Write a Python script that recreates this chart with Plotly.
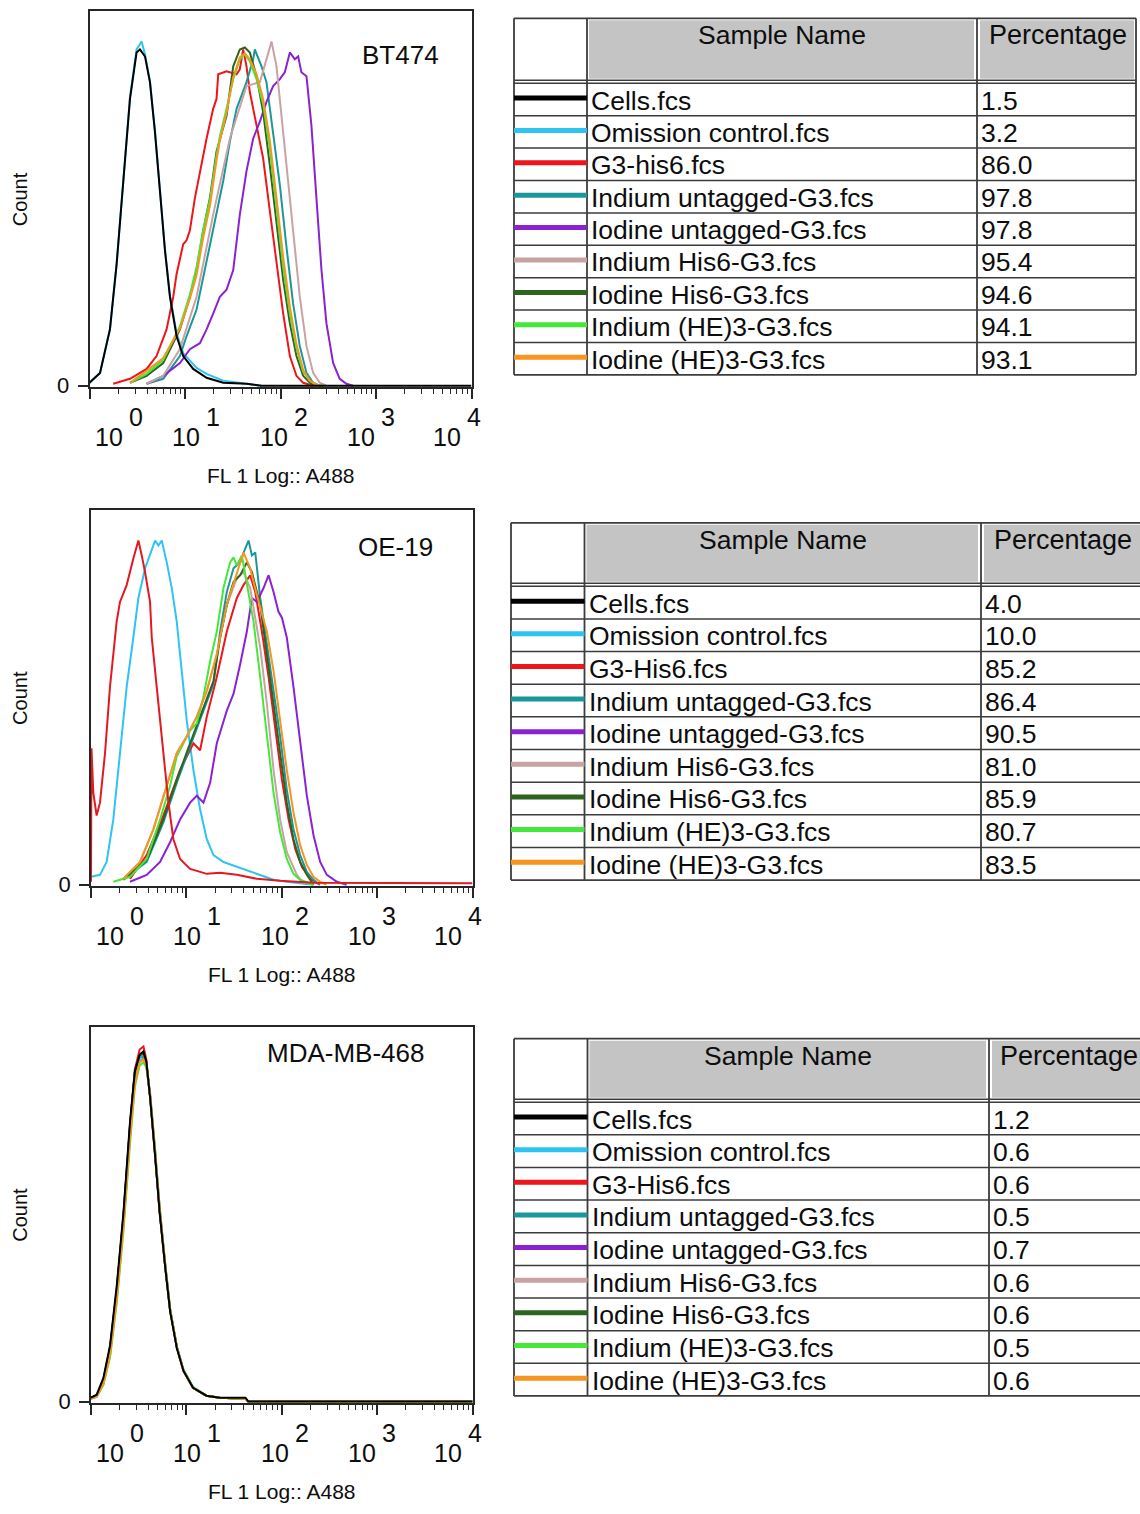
import numpy as np
import plotly.graph_objects as go

FIG_W, FIG_H = 1140, 1514
FONT = "Liberation Sans, Arial, Helvetica, sans-serif"

# ---------------------------------------------------------------- samples
SAMPLE_NAMES_BT474 = [
    "Cells.fcs", "Omission control.fcs", "G3-his6.fcs", "Indium untagged-G3.fcs",
    "Iodine untagged-G3.fcs", "Indium His6-G3.fcs", "Iodine His6-G3.fcs",
    "Indium (HE)3-G3.fcs", "Iodine (HE)3-G3.fcs",
]
SAMPLE_NAMES = [
    "Cells.fcs", "Omission control.fcs", "G3-His6.fcs", "Indium untagged-G3.fcs",
    "Iodine untagged-G3.fcs", "Indium His6-G3.fcs", "Iodine His6-G3.fcs",
    "Indium (HE)3-G3.fcs", "Iodine (HE)3-G3.fcs",
]
PCT_BT474 = [1.5, 3.2, 86.0, 97.8, 97.8, 95.4, 94.6, 94.1, 93.1]
PCT_OE19 = [4.0, 10.0, 85.2, 86.4, 90.5, 81.0, 85.9, 80.7, 83.5]
PCT_MDA = [1.2, 0.6, 0.6, 0.5, 0.7, 0.6, 0.6, 0.5, 0.6]

SERIES_COLORS = [
    "#000000", "#2ec4f2", "#ee151b", "#1b979b", "#8b22d2",
    "#c9a2a2", "#2e6420", "#45e83a", "#f6951f",
]
CELL_LINES = ["BT474", "OE-19", "MDA-MB-468"]
DECADES = [0, 1, 2, 3, 4]

# ---------------------------------------------------------------- BT474 histograms
# x: FL1 position in decades (log10 of intensity), y: event count per channel
BT474_CELLS_X = [0.0, 0.11, 0.214, 0.284, 0.354, 0.424, 0.493, 0.528, 0.581, 0.633, 0.685, 0.737,
                 0.790, 0.842, 0.912, 0.981, 1.086, 1.226, 1.40, 1.644, 1.8, 4.0]
BT474_CELLS_Y = [3, 13, 57, 123, 207, 290, 337, 340, 333, 307, 257, 197,
                 137, 90, 50, 30, 17, 8, 3, 2, 0, 0]
BT474_OMISSION_X = [0.0, 0.11, 0.214, 0.284, 0.354, 0.424, 0.493, 0.546, 0.581, 0.633, 0.685, 0.737,
                    0.790, 0.842, 0.912, 0.981, 1.086, 1.121, 1.226, 1.40, 1.644, 1.8]
BT474_OMISSION_Y = [3, 13, 57, 123, 207, 292, 340, 348, 335, 308, 258, 198,
                    138, 92, 53, 33, 22, 18, 12, 5, 2, 0]
BT474_G3_X = [0.249, 0.424, 0.598, 0.702, 0.807, 0.877, 0.912, 0.981, 1.016, 1.051, 1.104, 1.156,
              1.226, 1.295, 1.330, 1.348, 1.435, 1.540, 1.574, 1.609, 1.644, 1.679, 1.749, 1.818,
              1.888, 1.958, 2.028, 2.098, 2.167, 2.237, 2.342]
BT474_G3_Y = [2, 7, 17, 30, 57, 90, 113, 143, 147, 157, 190, 217,
              250, 280, 290, 315, 318, 315, 320, 340, 323, 297, 263, 230,
              177, 123, 73, 30, 10, 3, 0]
BT474_IN_UNTAG_X = [0.598, 0.772, 0.947, 1.016, 1.121, 1.295, 1.400, 1.470, 1.540, 1.644, 1.714, 1.731,
                    1.801, 1.853, 1.923, 1.993, 2.063, 2.132, 2.202, 2.272, 2.342, 2.411]
BT474_IN_UNTAG_Y = [2, 7, 30, 50, 77, 157, 207, 247, 280, 307, 330, 340,
                    323, 307, 257, 203, 140, 83, 40, 13, 3, 0]
BT474_I_UNTAG_X = [0.598, 0.772, 0.947, 1.051, 1.156, 1.226, 1.295, 1.365, 1.435, 1.505, 1.574, 1.644,
                   1.714, 1.784, 1.853, 1.923, 1.993, 2.045, 2.098, 2.150, 2.185, 2.219, 2.272, 2.324,
                   2.376, 2.429, 2.481, 2.551, 2.620, 2.690, 2.76]
BT474_I_UNTAG_Y = [2, 10, 23, 37, 43, 57, 73, 90, 97, 117, 173, 217,
                   250, 267, 287, 303, 310, 317, 337, 330, 333, 317, 313, 263,
                   190, 117, 63, 23, 7, 2, 0]
BT474_IN_HIS6_X = [0.598, 0.772, 0.947, 1.121, 1.295, 1.470, 1.644, 1.784, 1.853, 1.906, 1.958, 1.993,
                   2.063, 2.132, 2.202, 2.272, 2.342, 2.411, 2.481]
BT474_IN_HIS6_Y = [2, 10, 37, 90, 173, 250, 303, 307, 330, 348, 323, 290,
                   223, 157, 90, 40, 13, 3, 0]
BT474_I_HIS6_X = [0.424, 0.598, 0.772, 0.947, 1.051, 1.121, 1.191, 1.261, 1.330, 1.365, 1.435, 1.505,
                  1.574, 1.627, 1.679, 1.749, 1.818, 1.888, 1.958, 2.028, 2.098, 2.167, 2.237, 2.307, 2.376]
BT474_I_HIS6_Y = [3, 10, 23, 57, 90, 117, 157, 190, 237, 250, 273, 323,
                  340, 342, 337, 313, 277, 223, 163, 107, 63, 30, 10, 3, 0]
BT474_IN_HE3_X = [0.424, 0.598, 0.772, 0.947, 1.051, 1.121, 1.191, 1.261, 1.330, 1.365, 1.435, 1.505,
                  1.574, 1.627, 1.679, 1.749, 1.818, 1.888, 1.958, 2.028, 2.098, 2.167, 2.237, 2.307,
                  2.376, 2.45]
BT474_IN_HE3_Y = [3, 12, 26, 60, 92, 120, 158, 188, 233, 252, 280, 310,
                  330, 335, 328, 310, 285, 240, 180, 120, 73, 38, 14, 5, 1, 0]
BT474_I_HE3_X = [0.424, 0.598, 0.772, 0.947, 1.051, 1.121, 1.191, 1.261, 1.330, 1.365, 1.435, 1.505,
                 1.574, 1.627, 1.679, 1.749, 1.818, 1.888, 1.958, 2.028, 2.098, 2.167, 2.237, 2.307,
                 2.376, 2.45]
BT474_I_HE3_Y = [3, 15, 28, 58, 88, 112, 150, 182, 228, 248, 276, 312,
                 332, 336, 330, 315, 290, 248, 190, 130, 80, 42, 16, 5, 1, 0]

# ---------------------------------------------------------------- OE-19 histograms
OE19_CELLS_X = [0.0, 0.005, 0.024, 0.059, 0.094, 0.147, 0.199, 0.269, 0.304, 0.374, 0.444, 0.497,
                0.532, 0.567, 0.619, 0.637, 0.689, 0.759, 0.812, 0.864, 0.934, 1.039, 1.214, 1.354,
                1.529, 1.739, 1.983, 2.333, 4.0]
OE19_CELLS_Y = [3, 138, 93, 70, 83, 133, 200, 266, 286, 303, 330, 348,
                333, 316, 286, 250, 200, 133, 83, 46, 26, 16, 11, 12,
                10, 6, 4, 2, 1.5]
OE19_OMISSION_X = [0.0, 0.094, 0.164, 0.234, 0.304, 0.374, 0.444, 0.497, 0.567, 0.637, 0.672, 0.707,
                   0.742, 0.794, 0.847, 0.899, 0.952, 1.004, 1.074, 1.144, 1.214, 1.284, 1.389, 1.529,
                   1.634, 1.774, 1.914, 2.053, 2.333]
OE19_OMISSION_Y = [8, 10, 23, 66, 133, 200, 250, 290, 320, 340, 348, 343,
                   348, 326, 300, 266, 216, 166, 116, 76, 46, 30, 23, 18,
                   15, 10, 5, 3, 0]
OE19_G3_X = [0.409, 0.584, 0.759, 0.934, 1.074, 1.144, 1.214, 1.319, 1.424, 1.529, 1.599, 1.669,
             1.722, 1.792, 1.862, 1.932, 2.002, 2.072, 2.142, 2.212, 2.298, 2.40]
OE19_G3_Y = [6, 30, 70, 116, 143, 136, 170, 210, 256, 290, 303, 313,
             296, 256, 210, 156, 106, 66, 36, 18, 6, 0]
OE19_IN_UNTAG_X = [0.339, 0.584, 0.759, 0.899, 1.039, 1.179, 1.284, 1.354, 1.424, 1.494, 1.564, 1.617,
                   1.652, 1.687, 1.722, 1.774, 1.844, 1.914, 1.983, 2.053, 2.123, 2.193, 2.263, 2.333, 2.40]
OE19_IN_UNTAG_Y = [5, 23, 63, 103, 140, 176, 203, 256, 296, 320, 326, 340,
                   348, 333, 336, 290, 243, 196, 150, 96, 56, 30, 13, 5, 0]
OE19_I_UNTAG_X = [0.409, 0.584, 0.724, 0.829, 0.934, 1.039, 1.109, 1.179, 1.249, 1.319, 1.424, 1.494,
                  1.564, 1.634, 1.687, 1.739, 1.809, 1.862, 1.914, 1.966, 2.002, 2.053, 2.123, 2.193,
                  2.263, 2.333, 2.403, 2.473, 2.578, 2.68]
OE19_I_UNTAG_Y = [3, 10, 23, 43, 66, 83, 90, 83, 103, 143, 176, 193,
                  223, 256, 290, 286, 300, 313, 296, 276, 270, 250, 200, 143,
                  90, 50, 23, 10, 3, 0]
OE19_IN_HIS6_X = [0.339, 0.514, 0.654, 0.794, 0.899, 1.004, 1.109, 1.214, 1.319, 1.424, 1.529, 1.599,
                  1.669, 1.774, 1.844, 1.914, 1.983, 2.053, 2.158, 2.24]
OE19_IN_HIS6_Y = [6, 23, 56, 100, 133, 150, 170, 196, 233, 283, 310, 316,
                  300, 240, 183, 116, 66, 33, 10, 0]
OE19_I_HIS6_X = [0.339, 0.584, 0.759, 0.899, 1.039, 1.179, 1.284, 1.354, 1.424, 1.494, 1.564, 1.634,
                 1.687, 1.774, 1.844, 1.914, 1.983, 2.053, 2.123, 2.193, 2.263, 2.333]
OE19_I_HIS6_Y = [5, 25, 66, 106, 143, 180, 206, 250, 283, 306, 313, 326,
                 316, 283, 233, 183, 133, 83, 46, 23, 10, 0]
OE19_IN_HE3_X = [0.234, 0.409, 0.584, 0.724, 0.829, 0.899, 0.969, 1.039, 1.109, 1.179, 1.249, 1.319,
                 1.389, 1.459, 1.494, 1.529, 1.582, 1.634, 1.704, 1.774, 1.844, 1.914, 1.983, 2.053,
                 2.123, 2.193, 2.333]
OE19_IN_HE3_Y = [3, 8, 26, 66, 100, 130, 143, 156, 163, 190, 226, 256,
                 300, 326, 331, 323, 333, 306, 266, 210, 150, 93, 53, 26,
                 11, 5, 0]
OE19_I_HE3_X = [0.339, 0.514, 0.654, 0.794, 0.899, 1.004, 1.109, 1.214, 1.319, 1.424, 1.529, 1.599,
                1.669, 1.739, 1.844, 1.914, 1.983, 2.053, 2.123, 2.193, 2.263, 2.333, 2.403, 2.47]
OE19_I_HE3_Y = [6, 23, 56, 100, 133, 150, 170, 196, 233, 283, 316, 336,
                320, 293, 256, 216, 166, 116, 73, 40, 20, 8, 3, 0]

# ---------------------------------------------------------------- MDA-MB-468 histograms (shared channels)
MDA_X = [0.0, 0.06, 0.13, 0.2, 0.27, 0.34, 0.41, 0.46, 0.51, 0.55, 0.58, 0.62,
         0.67, 0.72, 0.78, 0.83, 0.9, 0.97, 1.07, 1.21, 1.35, 1.62, 1.65, 4.0]
MDA_CELLS_Y = [4, 7, 24, 57, 117, 191, 284, 334, 351, 354, 344, 307,
               251, 191, 134, 91, 54, 31, 14, 6, 4, 4, 0, 0]
MDA_OMISSION_Y = [3, 5, 18, 48, 105, 178, 270, 325, 345, 347, 340, 312,
                  258, 197, 138, 94, 56, 32, 15, 6, 4, 3, 0, 0]
MDA_G3_Y = [4, 6, 22, 54, 112, 186, 280, 336, 356, 359, 346, 308,
            252, 192, 135, 92, 55, 31, 14, 6, 4, 3, 0, 0]
MDA_IN_UNTAG_Y = [3, 5, 19, 50, 108, 182, 276, 330, 348, 349, 341, 309,
                  255, 195, 137, 93, 55, 32, 14, 6, 4, 3, 0, 0]
MDA_I_UNTAG_Y = [3, 6, 21, 53, 112, 186, 279, 332, 350, 352, 342, 308,
                 252, 192, 135, 92, 55, 31, 14, 6, 4, 3, 0, 0]
MDA_IN_HIS6_Y = [3, 6, 21, 52, 110, 184, 278, 331, 349, 351, 343, 309,
                 253, 193, 136, 92, 55, 31, 14, 6, 4, 3, 0, 0]
MDA_I_HIS6_Y = [4, 6, 22, 55, 114, 188, 281, 333, 350, 352, 343, 308,
                252, 192, 135, 92, 55, 31, 14, 6, 4, 3, 0, 0]
MDA_IN_HE3_Y = [3, 5, 17, 45, 100, 172, 262, 318, 340, 343, 338, 310,
                256, 196, 137, 93, 55, 32, 14, 6, 4, 3, 0, 0]
MDA_I_HE3_Y = [3, 5, 18, 47, 103, 176, 267, 322, 343, 346, 340, 310,
               255, 195, 136, 93, 55, 31, 14, 6, 4, 3, 0, 0]

BT474_CURVES = [
    (BT474_CELLS_X, BT474_CELLS_Y), (BT474_OMISSION_X, BT474_OMISSION_Y), (BT474_G3_X, BT474_G3_Y),
    (BT474_IN_UNTAG_X, BT474_IN_UNTAG_Y), (BT474_I_UNTAG_X, BT474_I_UNTAG_Y),
    (BT474_IN_HIS6_X, BT474_IN_HIS6_Y), (BT474_I_HIS6_X, BT474_I_HIS6_Y),
    (BT474_IN_HE3_X, BT474_IN_HE3_Y), (BT474_I_HE3_X, BT474_I_HE3_Y),
]
OE19_CURVES = [
    (OE19_CELLS_X, OE19_CELLS_Y), (OE19_OMISSION_X, OE19_OMISSION_Y), (OE19_G3_X, OE19_G3_Y),
    (OE19_IN_UNTAG_X, OE19_IN_UNTAG_Y), (OE19_I_UNTAG_X, OE19_I_UNTAG_Y),
    (OE19_IN_HIS6_X, OE19_IN_HIS6_Y), (OE19_I_HIS6_X, OE19_I_HIS6_Y),
    (OE19_IN_HE3_X, OE19_IN_HE3_Y), (OE19_I_HE3_X, OE19_I_HE3_Y),
]
MDA_CURVES = [(MDA_X, y) for y in (
    MDA_CELLS_Y, MDA_OMISSION_Y, MDA_G3_Y, MDA_IN_UNTAG_Y, MDA_I_UNTAG_Y,
    MDA_IN_HIS6_Y, MDA_I_HIS6_Y, MDA_IN_HE3_Y, MDA_I_HE3_Y)]

# the OE-19 cells histogram is rendered in red on that panel
OE19_COLORS = ["#e3191f"] + SERIES_COLORS[1:]

# ---------------------------------------------------------------- layout geometry (pixels)
PANELS = [
    dict(name=CELL_LINES[0], curves=BT474_CURVES, colors=SERIES_COLORS, names=SAMPLE_NAMES_BT474,
         pct=PCT_BT474, box=(89.5, 471.5, 11.5, 390), label_pos=(0.813, 0.885),
         table=dict(left=514, top=18.5, c1=587, c2=977, right=1136, head=82.5, row=32.65)),
    dict(name=CELL_LINES[1], curves=OE19_CURVES, colors=OE19_COLORS, names=SAMPLE_NAMES,
         pct=PCT_OE19, box=(91, 472.5, 514, 893), label_pos=(0.797, 0.902),
         table=dict(left=511, top=527, c1=584.5, c2=981, right=1143, head=589.5, row=32.9)),
    dict(name=CELL_LINES[2], curves=MDA_CURVES, colors=SERIES_COLORS, names=SAMPLE_NAMES,
         pct=PCT_MDA, box=(91, 472.5, 1035, 1414), label_pos=(0.666, 0.929),
         table=dict(left=514, top=1047, c1=587.5, c2=989, right=1146, head=1109.5, row=32.9)),
]

# right edge (in decades) of each "10" of the decade labels
DECADE_LABEL_RIGHT = [0.372, 1.178, 2.099, 3.010, 3.911]
DRAW_ORDER = [1, 2, 3, 4, 5, 6, 7, 8, 0]
MINOR_TICKS = [d + np.log10(k) for d in DECADES[:-1] for k in range(2, 10)]
AXIS_COLOR = "#262626"
GRID_COLOR = "#3c3c3c"
HEADER_FILL = "#c4c4c4"
TEXT_COLOR = "#0d0d0d"


def px(x):
    return x / FIG_W


def py(y):
    return 1 - y / FIG_H


fig = go.Figure()
annotations, shapes = [], []
layout_axes = {}

for i, p in enumerate(PANELS):
    n = "" if i == 0 else str(i + 1)
    xa, ya = "x" + n, "y" + n
    x0, x1, y0, y1 = p["box"]
    height_px = y1 - y0

    for k in DRAW_ORDER:
        xs, ys = p["curves"][k]
        fig.add_trace(go.Scatter(
            x=xs, y=ys, mode="lines", xaxis=xa, yaxis=ya, name=p["names"][k],
            line=dict(color=p["colors"][k], width=2.0), hoverinfo="skip", showlegend=False,
        ))

    layout_axes["xaxis" + n] = dict(
        domain=[px(x0), px(x1)], anchor=ya, range=[0, 4], showgrid=False, zeroline=False,
        showline=True, mirror=True, linecolor=AXIS_COLOR, linewidth=1.6,
        tickmode="array", tickvals=DECADES, ticks="outside", ticklen=10, tickwidth=1.6,
        tickcolor=AXIS_COLOR, showticklabels=False,
        minor=dict(tickmode="array", tickvals=MINOR_TICKS, ticks="outside", ticklen=5,
                   tickwidth=1.4, tickcolor=AXIS_COLOR, showgrid=False),
    )
    layout_axes["yaxis" + n] = dict(
        domain=[py(y1), py(y0)], anchor=xa, range=[-1.2, height_px], showgrid=False,
        zeroline=False, showline=True, mirror=True, linecolor=AXIS_COLOR, linewidth=1.6,
        tickmode="array", tickvals=[0], ticktext=["0"], ticks="outside", ticklen=10,
        tickwidth=1.6, tickcolor=AXIS_COLOR, ticklabelstandoff=4,
        tickfont=dict(size=22, color=TEXT_COLOR, family=FONT),
    )

    # decade labels 10^d
    for d, xr in zip(DECADES, DECADE_LABEL_RIGHT):
        annotations.append(dict(xref=xa, yref=ya + " domain", x=xr, y=0, yshift=-50,
                                text="10", xanchor="right", yanchor="middle", showarrow=False,
                                font=dict(size=25, color=TEXT_COLOR, family=FONT)))
        annotations.append(dict(xref=xa, yref=ya + " domain", x=xr, y=0, xshift=2, yshift=-30,
                                text=str(d), xanchor="left", yanchor="middle", showarrow=False,
                                font=dict(size=25, color=TEXT_COLOR, family=FONT)))
    annotations.append(dict(xref=xa + " domain", yref=ya + " domain", x=0.5, y=0, yshift=-89,
                            text="FL 1 Log:: A488", xanchor="center", yanchor="middle",
                            showarrow=False, font=dict(size=21, color=TEXT_COLOR, family=FONT)))
    annotations.append(dict(xref="paper", yref="paper", x=px(20), y=py((y0 + y1) / 2),
                            text="Count", textangle=-90, xanchor="center", yanchor="middle",
                            showarrow=False, font=dict(size=20, color=TEXT_COLOR, family=FONT)))
    lx, ly = p["label_pos"]
    annotations.append(dict(xref=xa + " domain", yref=ya + " domain", x=lx, y=ly,
                            text=p["name"], xanchor="center", yanchor="middle", showarrow=False,
                            font=dict(size=26, color=TEXT_COLOR, family=FONT)))

    # sample table
    t = p["table"]
    rows_top = t["head"] + 1.5
    bottom = rows_top + 9 * t["row"]

    def line(xa0, ya0, xa1, ya1, color=GRID_COLOR, width=1.8):
        shapes.append(dict(type="line", xref="paper", yref="paper",
                           x0=px(xa0), y0=py(ya0), x1=px(xa1), y1=py(ya1),
                           line=dict(color=color, width=width)))

    def rect(xa0, ya0, xa1, ya1, fill):
        shapes.append(dict(type="rect", xref="paper", yref="paper",
                           x0=px(xa0), y0=py(ya0), x1=px(xa1), y1=py(ya1),
                           fillcolor=fill, line=dict(width=0), layer="below"))

    rect(t["c1"] + 2, t["top"] + 2, t["c2"] - 3, t["head"] - 3, HEADER_FILL)
    rect(t["c2"] + 3, t["top"] + 2, t["right"] - 2, t["head"] - 3, HEADER_FILL)
    line(t["left"], t["top"], t["right"], t["top"])
    line(t["left"], bottom, t["right"], bottom)
    line(t["left"], t["top"], t["left"], bottom)
    line(t["right"], t["top"], t["right"], bottom)
    line(t["c1"], t["top"], t["c1"], bottom)
    line(t["c2"], t["top"], t["c2"], bottom)
    line(t["left"], t["head"] - 1.5, t["right"], t["head"] - 1.5, width=1.5)
    line(t["left"], t["head"] + 1.5, t["right"], t["head"] + 1.5, width=1.5)
    for r in range(1, 9):
        yy = rows_top + r * t["row"]
        line(t["left"], yy, t["right"], yy, width=1.5)

    annotations.append(dict(xref="paper", yref="paper", x=px((t["c1"] + t["c2"]) / 2),
                            y=py(t["top"] + 17), text="Sample Name", xanchor="center",
                            yanchor="middle", showarrow=False,
                            font=dict(size=26.5, color=TEXT_COLOR, family=FONT)))
    annotations.append(dict(xref="paper", yref="paper", x=px((t["c2"] + t["right"]) / 2 + 1),
                            y=py(t["top"] + 17), text="Percentage", xanchor="center",
                            yanchor="middle", showarrow=False,
                            font=dict(size=27, color=TEXT_COLOR, family=FONT)))
    for r in range(9):
        mid = rows_top + (r + 0.5) * t["row"]
        line(t["left"], mid - 1.5, t["c1"], mid - 1.5, color=SERIES_COLORS[r], width=5)
        annotations.append(dict(xref="paper", yref="paper", x=px(t["c1"] + 2), y=py(mid + 1),
                                text=p["names"][r], xanchor="left", yanchor="middle",
                                showarrow=False, font=dict(size=26.5, color=TEXT_COLOR, family=FONT)))
        annotations.append(dict(xref="paper", yref="paper", x=px(t["c2"] + 2), y=py(mid + 1),
                                text=f"{p['pct'][r]:.1f}", xanchor="left", yanchor="middle",
                                showarrow=False, font=dict(size=26.5, color=TEXT_COLOR, family=FONT)))

fig.update_layout(
    width=FIG_W, height=FIG_H, margin=dict(l=0, r=0, t=0, b=0),
    paper_bgcolor="white", plot_bgcolor="white", showlegend=False, hovermode=False,
    font=dict(family=FONT, color=TEXT_COLOR),
    annotations=annotations, shapes=shapes, **layout_axes,
)

fig.write_html("out.html")
